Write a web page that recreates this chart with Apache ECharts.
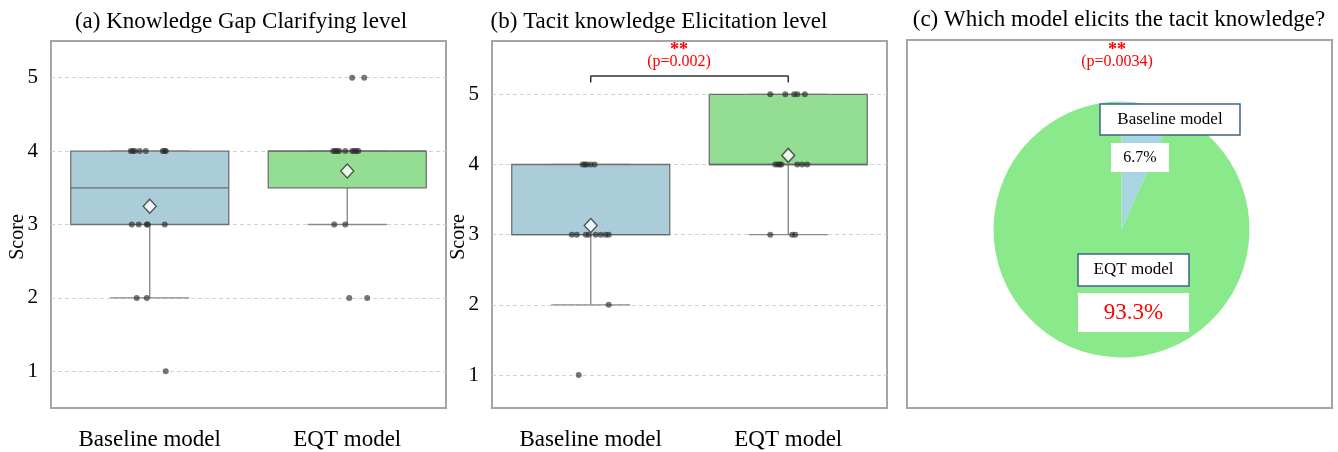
<!DOCTYPE html>
<html><head><meta charset="utf-8">
<script src="https://cdn.jsdelivr.net/npm/echarts@6/dist/echarts.min.js"></script>
<style>html,body{margin:0;padding:0;background:#fff}#c{width:1338px;height:452px}</style>
</head><body><div id="c"></div>
<script>
// ---------- data ----------
const categories = ['Baseline model', 'EQT model'];
const yTicks = [1, 2, 3, 4, 5];
const titles = ['(a) Knowledge Gap Clarifying level', '(b) Tacit knowledge Elicitation level', '(c) Which model elicits the tacit knowledge?'];

// panel (a): box stats [lowerWhisker, Q1, median, Q3, upperWhisker]
const boxA = [[2, 3, 3.5, 4, 4], [3, 3.5, 4, 4, 4]];
const meanA = [3.25, 3.73];
const ptsA_base = [4, 4, 4, 4, 4, 4, 4, 4, 3, 3, 3, 3, 3, 2, 2, 1];
const jitA_base = [-0.096, -0.086, -0.076, -0.051, -0.020, 0.066, 0.076, 0.081, -0.091, -0.056, -0.015, -0.010, 0.076, -0.066, -0.015, 0.081];
const ptsA_eqt = [5, 5, 4, 4, 4, 4, 4, 4, 4, 4, 4, 3, 3, 2, 2];
const jitA_eqt = [0.025, 0.086, -0.071, -0.061, -0.051, -0.041, -0.010, 0.025, 0.035, 0.046, 0.056, -0.066, -0.010, 0.010, 0.101];

// panel (b)
const boxB = [[2, 3, 3, 4, 4], [3, 4, 4, 5, 5]];
const meanB = [3.13, 4.13];
const ptsB_base = [4, 4, 4, 4, 4, 3, 3, 3, 3, 3, 3, 3, 3, 2, 1];
const jitB_base = [-0.041, -0.030, -0.020, 0, 0.020, -0.096, -0.071, -0.025, -0.010, 0.025, 0.051, 0.076, 0.091, 0.091, -0.061];
const ptsB_eqt = [5, 5, 5, 5, 5, 4, 4, 4, 4, 4, 4, 4, 3, 3, 3];
const jitB_eqt = [-0.091, -0.015, 0.030, 0.046, 0.084, -0.066, -0.053, -0.043, -0.035, 0.046, 0.071, 0.096, -0.091, 0.020, 0.035];
const bracketB = [5.17, 5.26];
const pB = '(p=0.002)';

// panel (c)
const pieNames = ['Baseline model', 'EQT model'];
const pieCounts = [1, 14];
const pC = '(p=0.0034)';

// ---------- styles ----------
const SERIF = '"Liberation Serif", "Times New Roman", serif';
const boxColors = ['#aacdd9', '#93de93'];
const pieColors = ['#a8d5e2', '#8ae98a'];
const frameColor = '#a5a5a5';

function toPts(pts, jit, idx) { return pts.map((v, k) => [idx + jit[k], v]); }

function makeY(gi, min, max) {
  return {
    type: 'value', gridIndex: gi, min: min, max: max,
    name: 'Score', nameLocation: 'middle', nameGap: 23, nameMoveOverlap: false,
    nameTextStyle: { fontFamily: SERIF, fontSize: 20, color: '#000', padding: [0, 25, 0, 0] },
    axisLine: { show: false },
    axisTick: { show: false, customValues: yTicks },
    axisLabel: { customValues: yTicks, fontFamily: SERIF, fontSize: 21, color: '#000', margin: 13 },
    splitLine: { show: true, lineStyle: { color: '#d2d2d2', type: [4, 3], width: 1 } }
  };
}
function makeX(gi) {
  return {
    type: 'value', gridIndex: gi, min: -0.5, max: 1.5,
    axisLine: { show: false }, axisTick: { show: false }, splitLine: { show: false },
    axisLabel: {
      customValues: [0, 1], fontFamily: SERIF, fontSize: 23, color: '#000', margin: 20,
      formatter: v => categories[Math.round(v)]
    }
  };
}
function boxSeries(gi, stats) {
  return {
    type: 'custom', xAxisIndex: gi, yAxisIndex: gi, z: 2,
    data: stats.map((s, i) => [i].concat(s)),
    renderItem(params, api) {
      const x = api.value(0);
      const lo = api.value(1), q1 = api.value(2), med = api.value(3), q3 = api.value(4), hi = api.value(5);
      const hw = 0.4, cw = 0.2;
      const tl = api.coord([x - hw, q3]), br = api.coord([x + hw, q1]);
      const mL = api.coord([x - hw, med]), mR = api.coord([x + hw, med]);
      const a1 = api.coord([x, q1]), a2 = api.coord([x, lo]);
      const b1 = api.coord([x, q3]), b2 = api.coord([x, hi]);
      const cl1 = api.coord([x - cw, lo]), cl2 = api.coord([x + cw, lo]);
      const ch1 = api.coord([x - cw, hi]), ch2 = api.coord([x + cw, hi]);
      const ws = { stroke: '#8a8a8a', lineWidth: 1.4 };
      return { type: 'group', children: [
        { type: 'line', shape: { x1: a1[0], y1: a1[1], x2: a2[0], y2: a2[1] }, style: ws },
        { type: 'line', shape: { x1: b1[0], y1: b1[1], x2: b2[0], y2: b2[1] }, style: ws },
        { type: 'line', shape: { x1: cl1[0], y1: cl1[1], x2: cl2[0], y2: cl2[1] }, style: ws },
        { type: 'line', shape: { x1: ch1[0], y1: ch1[1], x2: ch2[0], y2: ch2[1] }, style: ws },
        { type: 'rect', shape: { x: tl[0], y: tl[1], width: br[0] - tl[0], height: br[1] - tl[1] },
          style: { fill: boxColors[params.dataIndex], stroke: '#707070', lineWidth: 1.3 } },
        { type: 'line', shape: { x1: mL[0], y1: mL[1], x2: mR[0], y2: mR[1] }, style: { stroke: '#6a6a6a', lineWidth: 1.3 } }
      ]};
    }
  };
}
function ptSeries(gi, data) {
  return { type: 'scatter', xAxisIndex: gi, yAxisIndex: gi, z: 3, symbolSize: 6, silent: true,
    itemStyle: { color: 'rgba(40,40,40,0.8)' }, data: data };
}
function meanSeries(gi, means) {
  return { type: 'scatter', xAxisIndex: gi, yAxisIndex: gi, z: 4, symbol: 'diamond', symbolSize: [13, 14], silent: true,
    itemStyle: { color: '#fff', borderColor: '#333', borderWidth: 1.4 },
    data: means.map((m, i) => [i, m]) };
}

const total = pieCounts.reduce((a, b) => a + b, 0);
const pct = pieCounts.map(v => (v / total * 100).toFixed(1) + '%');

function txt(text, x, y, size, color, weight) {
  return { type: 'text', x: x, y: y, z: 100, style: { text: text, fontFamily: SERIF, fontSize: size, fill: color || '#000',
    fontWeight: weight || 'normal', align: 'center', verticalAlign: 'middle' } };
}
function boxRect(x, y, w, h, border) {
  return { type: 'rect', z: 90, shape: { x: x, y: y, width: w, height: h },
    style: { fill: '#fff', stroke: border ? '#3f6387' : null, lineWidth: border ? 1.5 : 0 } };
}

const chart = echarts.init(document.getElementById('c'), null, { renderer: 'canvas' });
chart.setOption({
  backgroundColor: '#fff',
  animation: false,
  grid: [
    { left: 51, top: 41, width: 395, height: 367, show: true, borderColor: frameColor, borderWidth: 2, backgroundColor: '#fff' },
    { left: 492, top: 41, width: 395, height: 367, show: true, borderColor: frameColor, borderWidth: 2, backgroundColor: '#fff' }
  ],
  xAxis: [makeX(0), makeX(1)],
  yAxis: [makeY(0, 0.5, 5.5), makeY(1, 0.53, 5.76)],
  series: [
    boxSeries(0, boxA),
    ptSeries(0, toPts(ptsA_base, jitA_base, 0).concat(toPts(ptsA_eqt, jitA_eqt, 1))),
    meanSeries(0, meanA),
    boxSeries(1, boxB),
    ptSeries(1, toPts(ptsB_base, jitB_base, 0).concat(toPts(ptsB_eqt, jitB_eqt, 1))),
    meanSeries(1, meanB),
    { type: 'line', xAxisIndex: 1, yAxisIndex: 1, z: 5, symbol: 'none', silent: true,
      lineStyle: { color: '#333', width: 1.5 },
      data: [[0, bracketB[0]], [0, bracketB[1]], [1, bracketB[1]], [1, bracketB[0]]] },
    { type: 'pie', center: [1121.5, 229.5], radius: 128, startAngle: 90, clockwise: true, silent: true,
      label: { show: false }, labelLine: { show: false },
      itemStyle: { borderWidth: 0 },
      data: pieNames.map((n, i) => ({ name: n, value: pieCounts[i], itemStyle: { color: pieColors[i] } })) }
  ],
  graphic: [
    { type: 'rect', z: 0, shape: { x: 907, y: 40, width: 425, height: 368 }, style: { fill: null, stroke: frameColor, lineWidth: 2 } },
    txt(titles[0], 241, 22, 23),
    txt(titles[1], 659, 22, 23),
    txt(titles[2], 1119, 20, 23),
    txt('**', 679, 50, 18, '#ff0000', 'bold'),
    txt(pB, 679, 62, 16, '#ff0000'),
    txt('**', 1117, 50, 18, '#ff0000', 'bold'),
    txt(pC, 1117, 62, 16, '#ff0000'),
    boxRect(1100, 104, 140, 31, true), txt(pieNames[0], 1170, 120, 17),
    boxRect(1111, 143, 58, 29, false), txt(pct[0], 1140, 158, 16),
    boxRect(1078, 254, 111, 32, true), txt(pieNames[1], 1133.5, 270, 17),
    boxRect(1078, 293, 111, 39, false), txt(pct[1], 1133.5, 313, 23, '#ff0000')
  ]
});
</script></body></html>
